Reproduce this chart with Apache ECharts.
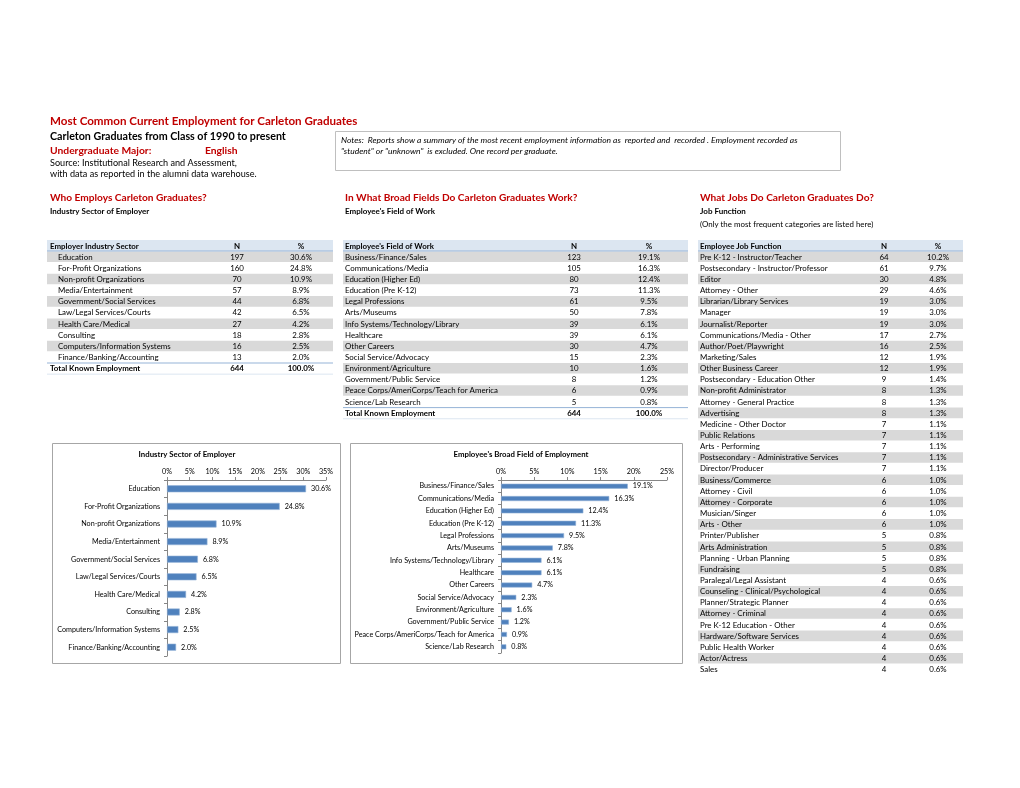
<!DOCTYPE html>
<html><head><meta charset="utf-8">
<script src="https://cdn.jsdelivr.net/npm/echarts@6/dist/echarts.min.js"></script>
<style>html,body{margin:0;padding:0;background:#fff}#c{width:1020px;height:788px}</style>
</head><body><div id="c"></div>
<script>
// ---------- DATA ----------
const sectorCats = ['Education','For-Profit Organizations','Non-profit Organizations','Media/Entertainment','Government/Social Services','Law/Legal Services/Courts','Health Care/Medical','Consulting','Computers/Information Systems','Finance/Banking/Accounting'];
const sectorN = [197,160,70,57,44,42,27,18,16,13];
const sectorPct = [30.6,24.8,10.9,8.9,6.8,6.5,4.2,2.8,2.5,2.0];

const fieldCats = ['Business/Finance/Sales','Communications/Media','Education (Higher Ed)','Education (Pre K-12)','Legal Professions','Arts/Museums','Info Systems/Technology/Library','Healthcare','Other Careers','Social Service/Advocacy','Environment/Agriculture','Government/Public Service','Peace Corps/AmeriCorps/Teach for America','Science/Lab Research'];
const fieldN = [123,105,80,73,61,50,39,39,30,15,10,8,6,5];
const fieldPct = [19.1,16.3,12.4,11.3,9.5,7.8,6.1,6.1,4.7,2.3,1.6,1.2,0.9,0.8];

const jobCats = ['Pre K-12 - Instructor/Teacher','Postsecondary - Instructor/Professor','Editor','Attorney - Other','Librarian/Library Services','Manager','Journalist/Reporter','Communications/Media - Other','Author/Poet/Playwright','Marketing/Sales','Other Business Career','Postsecondary - Education Other','Non-profit Administrator','Attorney - General Practice','Advertising','Medicine - Other Doctor','Public Relations','Arts - Performing','Postsecondary - Administrative Services','Director/Producer','Business/Commerce','Attorney - Civil','Attorney - Corporate','Musician/Singer','Arts - Other','Printer/Publisher','Arts Administration','Planning - Urban Planning','Fundraising','Paralegal/Legal Assistant','Counseling - Clinical/Psychological','Planner/Strategic Planner','Attorney - Criminal','Pre K-12 Education - Other','Hardware/Software Services','Public Health Worker','Actor/Actress','Sales'];
const jobN = [64,61,30,29,19,19,19,17,16,12,12,9,8,8,8,7,7,7,7,7,6,6,6,6,6,5,5,5,5,4,4,4,4,4,4,4,4,4];
const jobPct = [10.2,9.7,4.8,4.6,3.0,3.0,3.0,2.7,2.5,1.9,1.9,1.4,1.3,1.3,1.3,1.1,1.1,1.1,1.1,1.1,1.0,1.0,1.0,1.0,1.0,0.8,0.8,0.8,0.8,0.6,0.6,0.6,0.6,0.6,0.6,0.6,0.6,0.6];

const totalN = 644;
const totalPct = 100.0;

const headerTexts = {
  title: 'Most Common Current Employment for Carleton Graduates',
  sub: 'Carleton Graduates from Class of 1990 to present',
  majorLabel: 'Undergraduate Major:',
  major: 'English',
  src1: 'Source: Institutional Research and Assessment,',
  src2: 'with data as reported in the alumni data warehouse.',
  notes1: 'Notes:  Reports show a summary of the most recent employment information as  reported and  recorded . Employment recorded as',
  notes2: '"student" or "unknown"  is excluded. One record per graduate.'
};

// ---------- STYLE ----------
const FF = 'Lato, "Liberation Sans", sans-serif';
const RED = '#c00000';
const SHADE = '#d9d9d9';
const HEAD_BG = '#dce6f1';
const HEAD_LINE = '#95b3d7';
const BAR = '#4f81bd';
const TF = 7.9; // table font size
const CF = 7.2; // chart font size

const g = [];
function txt(x, y, text, size, opts) {
  opts = opts || {};
  g.push({type:'text', silent:true, z:10, x:x, y:y, style:{
    text:text, fill:opts.color||'#000',
    font:(opts.italic?'italic ':'')+(opts.bold?'bold ':'')+size+'px '+FF,
    textAlign:opts.align||'left', align:opts.align||'left',
    textVerticalAlign:'middle', verticalAlign:'middle'
  }});
}
function rect(x, y, w, h, fill, stroke, lw) {
  g.push({type:'rect', silent:true, z:1, shape:{x:x,y:y,width:w,height:h},
    style:{fill:fill||'none', stroke:stroke||'none', lineWidth:lw||1}});
}
function line(x1, y1, x2, y2, color, lw) {
  g.push({type:'line', silent:true, z:5, shape:{x1:x1,y1:y1,x2:x2,y2:y2},
    style:{stroke:color, lineWidth:lw||1}});
}

// header
txt(50, 121, headerTexts.title, 11.6, {bold:true, color:RED});
txt(50, 137, headerTexts.sub, 10.7, {bold:true});
txt(50, 151, headerTexts.majorLabel, 10.3, {bold:true, color:RED});
txt(205, 151, headerTexts.major, 10.3, {bold:true, color:RED});
txt(50, 163, headerTexts.src1, 9.1);
txt(50, 174, headerTexts.src2, 9.1);
rect(335.5, 131.5, 505, 39, 'none', '#bfbfbf', 1);
txt(341, 140, headerTexts.notes1, 8.5, {italic:true});
txt(341, 151, headerTexts.notes2, 8.5, {italic:true});

// section headers
const secs = [
  {x:50, t:'Who Employs Carleton Graduates?', s:'Industry Sector of Employer'},
  {x:345, t:'In What Broad Fields Do Carleton Graduates Work?', s:"Employee's Field of Work"},
  {x:700, t:'What Jobs Do Carleton Graduates Do?', s:'Job Function'}
];
secs.forEach(function(s){
  txt(s.x, 198, s.t, 10.15, {bold:true, color:RED});
  txt(s.x, 211, s.s, 8, {bold:true});
});
txt(700, 224, '(Only the most frequent categories are listed here)', 7.9);

// tables
const TOP = 240, HH = 11, RH = 11.15;
function table(o) {
  const w = o.x1 - o.x0;
  rect(o.x0, TOP, w, HH, HEAD_BG);
  line(o.x0, TOP+HH, o.x1, TOP+HH, HEAD_LINE, 1);
  txt(o.hx, TOP+HH/2+0.5, o.head, TF, {bold:true});
  txt(o.nx, TOP+HH/2+0.5, 'N', TF, {bold:true, align:'center'});
  txt(o.px, TOP+HH/2+0.5, '%', TF, {bold:true, align:'center'});
  const y0 = TOP + HH + 0.5;
  o.cats.forEach(function(c, i){
    const y = y0 + i*RH;
    if (i % 2 === 0) rect(o.x0, y, w, RH-0.6, SHADE);
    txt(o.lx, y+RH/2, c, TF);
    txt(o.nx, y+RH/2, String(o.n[i]), TF, {align:'center'});
    txt(o.px, y+RH/2, o.p[i].toFixed(1)+'%', TF, {align:'center'});
  });
  if (o.total) {
    const y = y0 + o.cats.length*RH;
    line(o.x0, y, o.x1, y, HEAD_LINE, 1);
    line(o.x0, y+RH, o.x1, y+RH, HEAD_BG, 1);
    txt(o.hx, y+RH/2, 'Total Known Employment', TF, {bold:true});
    txt(o.nx, y+RH/2, String(totalN), TF, {bold:true, align:'center'});
    txt(o.px, y+RH/2, totalPct.toFixed(1)+'%', TF, {bold:true, align:'center'});
  }
}
table({x0:47, x1:333, hx:50, lx:58, nx:237, px:301, head:'Employer Industry Sector', cats:sectorCats, n:sectorN, p:sectorPct, total:true});
table({x0:343, x1:688, hx:345, lx:345, nx:574, px:649, head:"Employee's Field of Work", cats:fieldCats, n:fieldN, p:fieldPct, total:true});
table({x0:698, x1:963, hx:700, lx:700, nx:884, px:938, head:'Employee Job Function', cats:jobCats, n:jobN, p:jobPct, total:false});

// chart boxes (outline only)
rect(52.5, 443.5, 288, 220, 'none', '#a6a6a6', 1);
rect(350.5, 443.5, 332, 220, 'none', '#a6a6a6', 1);

const axisCommon = {
  axisLine:{show:true, lineStyle:{color:'#868686', width:1}},
  axisTick:{show:true, length:3, lineStyle:{color:'#868686'}},
  splitLine:{show:false}
};
function xAx(idx, max) {
  return Object.assign({gridIndex:idx, type:'value', min:0, max:max, interval:5, position:'top',
    axisLabel:{formatter:'{value}%', fontFamily:FF, fontSize:CF, color:'#000', margin:5}}, axisCommon);
}
function yAx(idx, cats) {
  return Object.assign({gridIndex:idx, type:'category', data:cats, inverse:true,
    axisLabel:{fontFamily:FF, fontSize:CF, color:'#000', margin:7}}, axisCommon);
}
function barSeries(idx, data, bw) {
  return {type:'bar', xAxisIndex:idx, yAxisIndex:idx, data:data, barWidth:bw,
    itemStyle:{color:BAR, borderColor:'#95b3d7', borderWidth:0.6},
    label:{show:true, position:'right', distance:5, fontFamily:FF, fontSize:CF, color:'#000',
      formatter:function(p){return p.value.toFixed(1)+'%';}},
    silent:true, animation:false};
}

const option = {
  backgroundColor:'#fff',
  animation:false,
  title:[
    {text:'Industry Sector of Employer', left:182, top:445, textAlign:'center',
     textStyle:{fontFamily:FF, fontSize:7.8, fontWeight:'bold', color:'#000'}},
    {text:"Employee's Broad Field of Employment", left:516, top:445, textAlign:'center',
     textStyle:{fontFamily:FF, fontSize:7.8, fontWeight:'bold', color:'#000'}}
  ],
  grid:[
    {left:167, top:480, width:159, height:176},
    {left:501, top:480, width:166, height:173}
  ],
  xAxis:[xAx(0, 35), xAx(1, 25)],
  yAxis:[yAx(0, sectorCats), yAx(1, fieldCats)],
  series:[barSeries(0, sectorPct, 7), barSeries(1, fieldPct, 5)],
  graphic:{elements:g}
};
const chart = echarts.init(document.getElementById('c'), null, {renderer:'canvas', width:1020, height:788});
chart.setOption(option);
</script></body></html>
